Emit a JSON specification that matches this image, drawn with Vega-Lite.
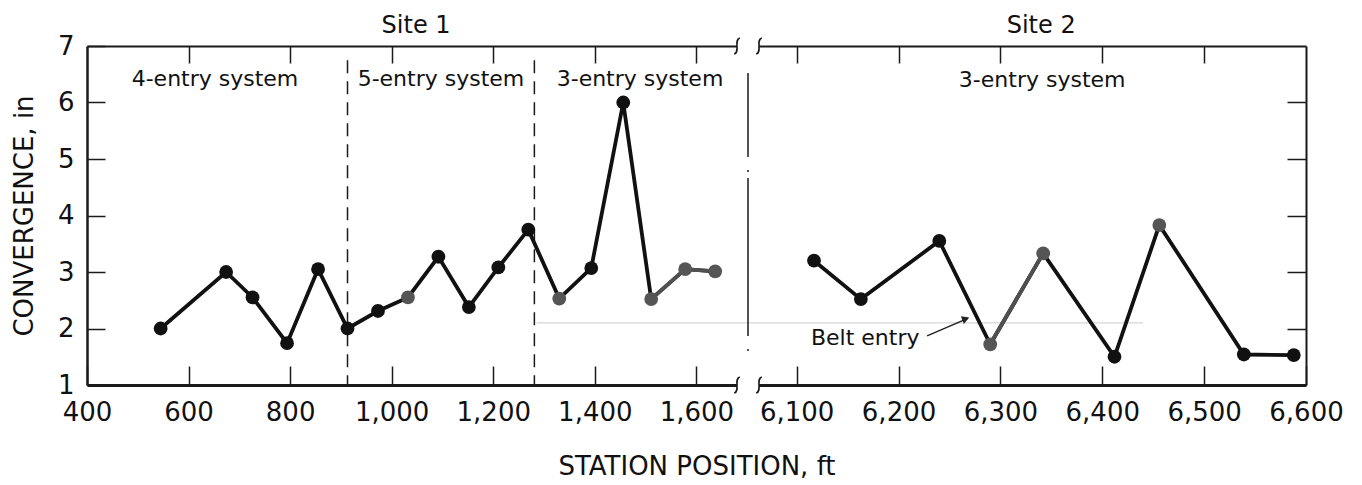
{
  "$schema": "https://vega.github.io/schema/vega-lite/v6.json",
  "width": 1219,
  "height": 339,
  "autosize": {"type": "none"},
  "padding": {"left": 87, "top": 46, "right": 56, "bottom": 100},
  "background": "white",
  "config": {
    "view": {"stroke": null},
    "font": "DejaVu Sans",
    "axis": {"zindex": 0, "grid": false, "domainColor": "#1a1a1a", "tickColor": "#1a1a1a", "labelColor": "#111", "titleColor": "#111", "labelFont": "DejaVu Sans", "titleFont": "DejaVu Sans", "titleFontWeight": "normal"}
  },
  "datasets": {
    "pts": [
      {"site": "Site 1", "station": 545, "conv": 2.0, "shade": "dark"},
      {"site": "Site 1", "station": 674, "conv": 3.0, "shade": "dark"},
      {"site": "Site 1", "station": 726, "conv": 2.55, "shade": "dark"},
      {"site": "Site 1", "station": 794, "conv": 1.74, "shade": "dark"},
      {"site": "Site 1", "station": 855, "conv": 3.05, "shade": "dark"},
      {"site": "Site 1", "station": 913, "conv": 2.0, "shade": "dark"},
      {"site": "Site 1", "station": 973, "conv": 2.31, "shade": "dark"},
      {"site": "Site 1", "station": 1032, "conv": 2.55, "shade": "grey"},
      {"site": "Site 1", "station": 1092, "conv": 3.27, "shade": "dark"},
      {"site": "Site 1", "station": 1152, "conv": 2.38, "shade": "dark"},
      {"site": "Site 1", "station": 1210, "conv": 3.08, "shade": "dark"},
      {"site": "Site 1", "station": 1269, "conv": 3.75, "shade": "dark"},
      {"site": "Site 1", "station": 1330, "conv": 2.53, "shade": "grey"},
      {"site": "Site 1", "station": 1393, "conv": 3.07, "shade": "dark"},
      {"site": "Site 1", "station": 1456, "conv": 6.0, "shade": "dark"},
      {"site": "Site 1", "station": 1511, "conv": 2.52, "shade": "grey"},
      {"site": "Site 1", "station": 1578, "conv": 3.05, "shade": "grey"},
      {"site": "Site 1", "station": 1637, "conv": 3.01, "shade": "grey"},
      {"site": "Site 2", "station": 6117, "conv": 3.2, "shade": "dark"},
      {"site": "Site 2", "station": 6163, "conv": 2.52, "shade": "dark"},
      {"site": "Site 2", "station": 6240, "conv": 3.55, "shade": "dark"},
      {"site": "Site 2", "station": 6290, "conv": 1.72, "shade": "grey"},
      {"site": "Site 2", "station": 6342, "conv": 3.33, "shade": "grey"},
      {"site": "Site 2", "station": 6412, "conv": 1.5, "shade": "dark"},
      {"site": "Site 2", "station": 6456, "conv": 3.83, "shade": "grey"},
      {"site": "Site 2", "station": 6539, "conv": 1.54, "shade": "dark"},
      {"site": "Site 2", "station": 6588, "conv": 1.53, "shade": "dark"}
    ],
    "systems": [
      {"label": "4-entry system", "station": 652, "conv": 6.42},
      {"label": "5-entry system", "station": 1097, "conv": 6.42},
      {"label": "3-entry system", "station": 1489, "conv": 6.42},
      {"label": "3-entry system", "station": 6341, "conv": 6.4}
    ],
    "sites": [
      {"label": "Site 1", "station": 1048, "conv": 7.23},
      {"label": "Site 2", "station": 6340, "conv": 7.23}
    ],
    "dividers": [
      {"station": 913, "top": 6.75, "bottom": 1},
      {"station": 1281, "top": 6.75, "bottom": 1}
    ]
  },
  "resolve": {"axis": {"x": "independent", "y": "independent"}},
  "layer": [
    {
      "data": {"values": [{"from": 1680, "to": 6063, "lo": 0.85, "hi": 7.15}]},
      "mark": {"type": "rect", "color": "white"},
      "encoding": {
        "x": {"field": "from", "type": "quantitative", "axis": null, "scale": {"domain": [400, 1680, 6063, 6600], "range": [0, 650, 672, 1219], "nice": false, "zero": false}},
        "x2": {"field": "to"},
        "y": {"field": "lo", "type": "quantitative", "axis": null, "scale": {"domain": [1, 7], "nice": false, "zero": false}},
        "y2": {"field": "hi"}
      }
    },
    {
      "data": {"values": [{"from": 1285, "to": 6440, "conv": 2.1}]},
      "mark": {"type": "rule", "color": "#d6d6d6", "strokeWidth": 1.2},
      "encoding": {
        "x": {"field": "from", "type": "quantitative", "axis": null},
        "x2": {"field": "to"},
        "y": {"field": "conv", "type": "quantitative", "axis": null}
      }
    },
    {
      "data": {"name": "dividers"},
      "mark": {"type": "rule", "color": "#1a1a1a", "strokeWidth": 1.5, "strokeDash": [13, 8]},
      "encoding": {
        "x": {"field": "station", "type": "quantitative", "axis": null},
        "y": {"field": "top", "type": "quantitative", "axis": null},
        "y2": {"field": "bottom"}
      }
    },
    {
      "data": {"values": [{"station": 3870, "top": 6.52, "bottom": 1.6}]},
      "mark": {"type": "rule", "color": "#1a1a1a", "strokeWidth": 1.5, "strokeDash": [84, 13, 2, 6, 158, 13, 2, 40]},
      "encoding": {
        "x": {"field": "station", "type": "quantitative", "axis": null},
        "y": {"field": "top", "type": "quantitative", "axis": null},
        "y2": {"field": "bottom"}
      }
    },
    {
      "data": {"name": "pts"},
      "mark": {"type": "line", "color": "#111", "strokeWidth": 3.8},
      "encoding": {
        "x": {"field": "station", "type": "quantitative", "title": "STATION POSITION, ft",
          "axis": {"orient": "bottom", "values": [400, 600, 800, 1000, 1200, 1400, 1600, 6100, 6200, 6300, 6400, 6500, 6600], "format": ",d", "tickSize": -19, "tickWidth": 1.5, "domainWidth": 3, "labelFontSize": 26, "labelPadding": 33, "labelFlush": false, "labelOverlap": false, "titleFontSize": 26, "titlePadding": 28}},
        "y": {"field": "conv", "type": "quantitative", "title": "CONVERGENCE, in",
          "axis": {"orient": "left", "values": [1, 2, 3, 4, 5, 6, 7], "format": "d", "tickSize": -18, "tickWidth": 1.5, "domainWidth": 2.5, "labelFontSize": 26, "labelPadding": 31, "labelFlush": false, "labelOverlap": false, "titleFontSize": 26, "titlePadding": 20}},
        "detail": {"field": "site"}
      }
    },
    {
      "data": {"name": "pts"},
      "transform": [{"filter": "(datum.station >= 1511 && datum.station <= 1637) || (datum.station >= 6290 && datum.station <= 6342)"}],
      "mark": {"type": "line", "color": "#505050", "strokeWidth": 3.8},
      "encoding": {
        "x": {"field": "station", "type": "quantitative", "axis": null},
        "y": {"field": "conv", "type": "quantitative", "axis": null},
        "detail": {"field": "site"}
      }
    },
    {
      "data": {"name": "pts"},
      "mark": {"type": "circle", "size": 190, "opacity": 1},
      "encoding": {
        "x": {"field": "station", "type": "quantitative",
          "axis": {"orient": "top", "values": [600, 800, 1000, 1200, 1400, 1600, 6100, 6200, 6300, 6400, 6500], "labels": false, "title": null, "tickSize": -17, "tickWidth": 1.5, "domainWidth": 1.8}},
        "y": {"field": "conv", "type": "quantitative",
          "axis": {"orient": "right", "values": [2, 3, 4, 5, 6], "labels": false, "title": null, "tickSize": -19, "tickWidth": 1.5, "domainWidth": 2}},
        "color": {"field": "shade", "type": "nominal", "legend": null, "scale": {"domain": ["dark", "grey"], "range": ["#111111", "#555555"]}}
      }
    },
    {
      "data": {"name": "systems"},
      "mark": {"type": "text", "fontSize": 22, "color": "#111", "align": "center", "baseline": "middle"},
      "encoding": {
        "x": {"field": "station", "type": "quantitative", "axis": null},
        "y": {"field": "conv", "type": "quantitative", "axis": null},
        "text": {"field": "label"}
      }
    },
    {
      "data": {"name": "sites"},
      "mark": {"type": "text", "fontSize": 24, "color": "#111", "align": "center", "baseline": "alphabetic"},
      "encoding": {
        "x": {"field": "station", "type": "quantitative", "axis": null},
        "y": {"field": "conv", "type": "quantitative", "axis": null},
        "text": {"field": "label"}
      }
    },
    {
      "data": {"values": [{"label": "Belt entry", "station": 6114, "conv": 1.71}]},
      "mark": {"type": "text", "fontSize": 22, "color": "#111", "align": "left", "baseline": "alphabetic"},
      "encoding": {
        "x": {"field": "station", "type": "quantitative", "axis": null},
        "y": {"field": "conv", "type": "quantitative", "axis": null},
        "text": {"field": "label"}
      }
    },
    {
      "data": {"values": [{"x0": 6228, "y0": 1.87, "x1": 6268, "y1": 2.18}]},
      "mark": {"type": "rule", "color": "#222", "strokeWidth": 1.5},
      "encoding": {
        "x": {"field": "x0", "type": "quantitative", "axis": null},
        "x2": {"field": "x1"},
        "y": {"field": "y0", "type": "quantitative", "axis": null},
        "y2": {"field": "y1"}
      }
    },
    {
      "data": {"values": [{"x1": 6266, "y1": 2.17}]},
      "mark": {"type": "point", "shape": "triangle-right", "filled": true, "size": 70, "angle": -21, "color": "#222", "opacity": 1},
      "encoding": {
        "x": {"field": "x1", "type": "quantitative", "axis": null},
        "y": {"field": "y1", "type": "quantitative", "axis": null}
      }
    },
    {
      "data": {"values": [{"station": 1680, "conv": 1}, {"station": 6063, "conv": 1}, {"station": 1680, "conv": 7}, {"station": 6063, "conv": 7}]},
      "mark": {"type": "point", "shape": "M0.35,-1 C-0.45,-0.75 0.45,0.75 -0.35,1", "filled": false, "size": 260, "color": "#1a1a1a", "strokeWidth": 1.6, "opacity": 1},
      "encoding": {
        "x": {"field": "station", "type": "quantitative", "axis": null},
        "y": {"field": "conv", "type": "quantitative", "axis": null}
      }
    }
  ]
}
